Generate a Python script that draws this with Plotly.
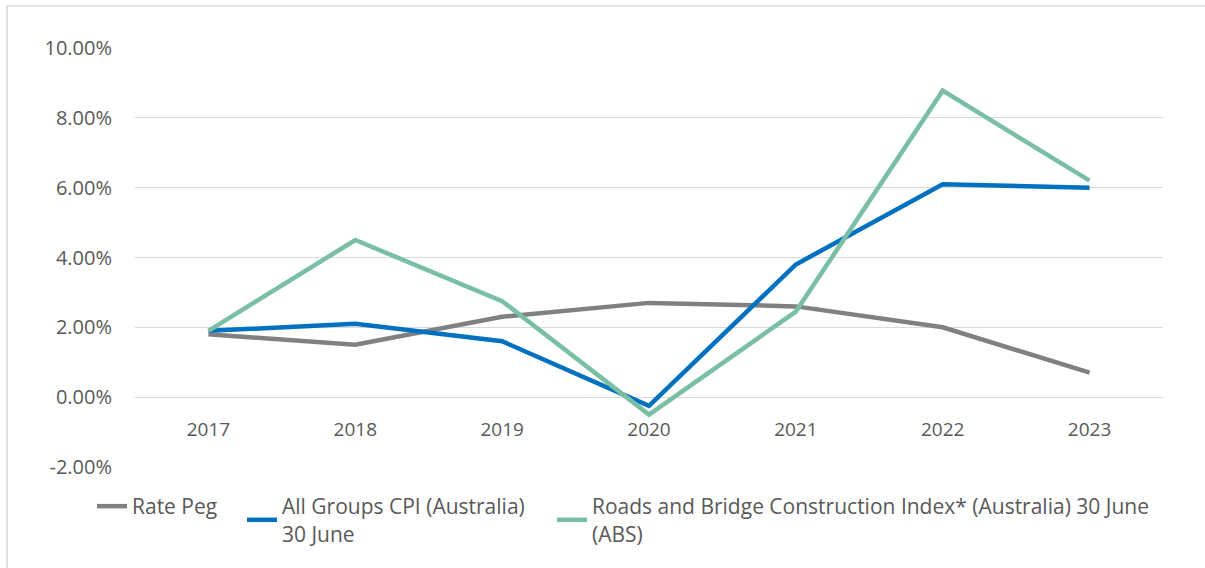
import plotly.graph_objects as go

years = ["2017", "2018", "2019", "2020", "2021", "2022", "2023"]
rate_peg = [1.8, 1.5, 2.3, 2.7, 2.6, 2.0, 0.7]
cpi = [1.9, 2.1, 1.6, -0.25, 3.8, 6.1, 6.0]
roads = [1.9, 4.5, 2.75, -0.5, 2.45, 8.78, 6.2]
y_ticks = [-2, 0, 2, 4, 6, 8, 10]
y_tick_labels = ["-2.00%", "0.00%", "2.00%", "4.00%", "6.00%", "8.00%", "10.00%"]

names = ["Rate Peg", "All Groups CPI (Australia)<br>30 June",
         "Roads and Bridge Construction Index* (Australia) 30 June<br>(ABS)"]
colors = ["#808080", "#0070C0", "#79BFA3"]

W, H = 1205, 568
L, R, T, B = 135, 42, 48, 101
pw, ph = W - L - R, H - T - B

def px_x(x):
    return (x - L) / pw

def px_y(y):
    return (H - B - y) / ph

FONT = "Open Sans"
TXT = "#595959"

fig = go.Figure()
legends = ["legend", "legend2", "legend3"]
for vals, nm, col, lg in zip([rate_peg, cpi, roads], names, colors, legends):
    fig.add_trace(go.Scatter(x=years, y=vals, mode="lines", name=nm,
                             line=dict(color=col, width=4.5), legend=lg))

leg_x = [92, 242, 552]
leg_common = dict(orientation="h", yanchor="top", y=px_y(486), xanchor="left",
                  font=dict(family=FONT, size=21, color=TXT),
                  bgcolor="rgba(0,0,0,0)", borderwidth=0, tracegroupgap=0,
                  itemwidth=30)
layout_legends = {}
for lg, lx in zip(legends, leg_x):
    layout_legends[lg] = dict(x=px_x(lx), **leg_common)

zero_pos = (0 - (-2)) / 12

fig.update_layout(
    width=W, height=H,
    margin=dict(l=L, r=R, t=T, b=B),
    paper_bgcolor="white", plot_bgcolor="white",
    showlegend=True,
    font=dict(family=FONT, size=19, color=TXT),
    xaxis=dict(type="category", showgrid=False, zeroline=False, showline=False,
               anchor="free", position=zero_pos, ticks="outside", ticklen=15,
               tickcolor="rgba(0,0,0,0)", range=[-0.5, 6.5],
               tickfont=dict(family=FONT, size=19, color=TXT)),
    yaxis=dict(range=[-2.001, 10.001], tickvals=y_ticks, ticktext=y_tick_labels,
               showgrid=True, gridcolor="#D9D9D9", gridwidth=1.3, zeroline=False,
               showline=False, ticks="outside", ticklen=18, tickcolor="rgba(0,0,0,0)",
               tickfont=dict(family=FONT, size=20, color=TXT)),
    shapes=[dict(type="rect", xref="paper", yref="paper",
                 x0=px_x(7), x1=px_x(1206), y0=px_y(570), y1=px_y(6),
                 line=dict(color="#D9D9D9", width=1.5), fillcolor="rgba(0,0,0,0)",
                 layer="below")],
    **layout_legends,
)

fig.write_html("out.html", config={"displayModeBar": False},
               post_script="document.body.style.margin='0';")
